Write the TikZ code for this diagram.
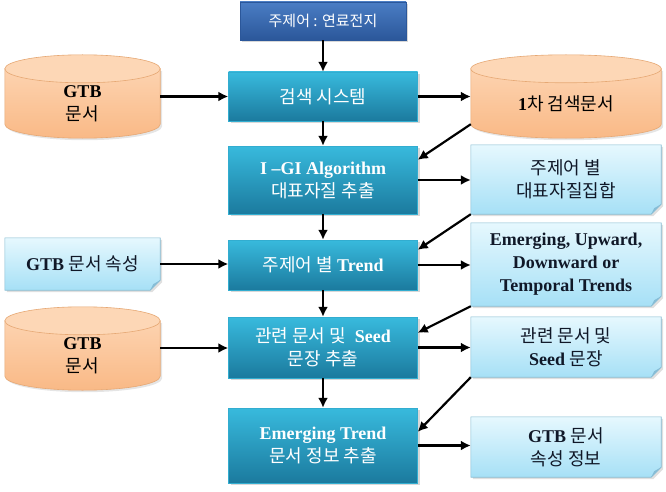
\documentclass[tikz,border=0pt]{standalone}
\usepackage{fontspec}
\setmainfont{Liberation Serif}
\newfontfamily\kr{Noto Sans CJK KR}
\usetikzlibrary{arrows.meta,backgrounds,calc,shadows}

\definecolor{themeTop}{HTML}{4A7DC4}
\definecolor{themeBot}{HTML}{2B579A}
\definecolor{mainTop}{HTML}{38BADD}
\definecolor{mainBot}{HTML}{1B7A9E}
\definecolor{noteTop}{HTML}{E6F8FE}
\definecolor{noteBot}{HTML}{A6E0F6}
\definecolor{noteLine}{HTML}{86BCD3}
\definecolor{noteFold}{HTML}{86BDD6}
\definecolor{dbTop}{HTML}{FDD3B0}
\definecolor{dbBot}{HTML}{F9B986}
\definecolor{dbLid}{HTML}{FDD7B6}
\definecolor{dbLine}{HTML}{E6A874}
\definecolor{noteText}{HTML}{101828}

\tikzset{
  every node/.style={align=center},
  themebox/.style={rectangle, minimum width=166pt, minimum height=38pt,
    top color=themeTop, bottom color=themeBot, draw=themeBot, text=white,
    font=\fontsize{15}{19}\selectfont,
    drop shadow={shadow xshift=2pt, shadow yshift=-2pt, opacity=0.3}},
  mainbox/.style={rectangle, minimum width=189pt,
    top color=mainTop, bottom color=mainBot, draw=mainTop!80!mainBot, text=white,
    font=\fontsize{18}{23}\selectfont,
    drop shadow={shadow xshift=2pt, shadow yshift=-2pt, opacity=0.3}},
  notebox/.style={rectangle, minimum width=190pt, inner sep=2pt, text=noteText,
    font=\fontsize{18}{23}\selectfont},
  dbnode/.style={rectangle, minimum width=155pt, minimum height=69pt,
    font=\fontsize{18}{23}\selectfont},
  notefill/.style={top color=noteTop, bottom color=noteBot, draw=noteLine, line width=0.6pt},
  notefold/.style={fill=noteFold},
  dbbody/.style={top color=dbTop, bottom color=dbBot, draw=dbLine, line width=0.6pt},
  dblid/.style={fill=dbLid, draw=dbLine, line width=0.6pt},
  flow/.style={line width=2.2pt, -{Latex[length=10pt,width=10pt]}}
}

\begin{document}
\begin{tikzpicture}[x=1pt,y=-1pt]
\useasboundingbox (0,0) rectangle (666,492);

% centre column
\node[themebox] (theme) at (323,21) {\kr 주제어 : 연료전지};
\node[mainbox, minimum height=49pt] (search) at (323,96.5) {\kr 검색 시스템};
\node[mainbox, minimum height=68pt] (igi) at (323,180) {\textbf{I –GI Algorithm}\\{\kr 대표자질 추출}};
\node[mainbox, minimum height=50pt] (trend) at (323,265) {{\kr 주제어 별} \textbf{Trend}};
\node[mainbox, minimum height=61pt] (seed) at (323,347.5) {{\kr 관련 문서 및}\ \ \textbf{Seed}\\{\kr 문장 추출}};
\node[mainbox, minimum height=75pt] (emerg) at (323,445.5) {\textbf{Emerging Trend}\\{\kr 문서 정보 추출}};

% left column
\node[dbnode] (gtbdoc) at (82.5,103.5) {\textbf{GTB}\\{\kr 문서}};
\node[notebox, minimum width=155pt, minimum height=52pt] (gtbattr) at (82.5,264) {\textbf{GTB} {\kr 문서 속성}};
\node[dbnode] (gtbdoc2) at (82.5,355.5) {\textbf{GTB}\\{\kr 문서}};

% right column
\node[dbnode, minimum width=190pt] (first) at (566,103.5) {\textbf{1}{\kr 차 검색문서}};
\node[notebox, minimum height=69pt] (featset) at (566,179.5) {{\kr 주제어 별}\\{\kr 대표자질집합}};
\node[notebox, minimum height=83pt] (trends) at (566,264.5) {\textbf{Emerging, Upward,}\\\textbf{Downward or}\\\textbf{Temporal Trends}};
\node[notebox, minimum height=60pt] (seeddoc) at (566,347) {{\kr 관련 문서 및}\\\textbf{Seed} {\kr 문장}};
\node[notebox, minimum height=60pt] (attrinfo) at (566,447) {\textbf{GTB} {\kr 문서}\\{\kr 속성 정보}};

\begin{scope}[on background layer]
  \fill[white] (0,0) rectangle (666,492);
  % databases
  \foreach \nm in {gtbdoc,gtbdoc2,first}{
    \path[dbbody, drop shadow={shadow xshift=2pt, shadow yshift=-2pt, opacity=0.2}]
      let \p1=(\nm.north west), \p2=(\nm.south east), \n1={(\x2-\x1)/2} in
      (\x1,\y1) -- (\x1,\y2+14pt) arc[start angle=180, end angle=360, x radius=\n1, y radius=14pt]
      -- (\x2,\y1) -- cycle;
    \path[dblid] let \p1=(\nm.north west), \p2=(\nm.south east), \n1={(\x2-\x1)/2} in
      (\x1+\n1,\y1) ellipse[x radius=\n1, y radius=14pt];
  }
  % notes
  \foreach \nm in {gtbattr,featset,trends,seeddoc,attrinfo}{
    \path[notefill, drop shadow={shadow xshift=2pt, shadow yshift=-2pt, opacity=0.25}]
      let \p1=(\nm.north west), \p2=(\nm.south east) in
      (\x1,\y1) -- (\x2,\y1) -- (\x2,\y2+10pt) -- (\x2-10pt,\y2) -- (\x1,\y2) -- cycle;
    \path[notefold] let \p1=(\nm.north west), \p2=(\nm.south east) in
      (\x2-10pt,\y2) -- (\x2,\y2+10pt) -- (\x2-7pt,\y2+6pt) -- cycle;
  }
\end{scope}

% down the centre
\draw[flow] (theme) -- (search);
\draw[flow] (search) -- (igi);
\draw[flow] (igi) -- (trend);
\draw[flow] (trend) -- (seed);
\draw[flow] (seed) -- (emerg);

% inputs
\draw[flow] (gtbdoc.east |- search.west) -- (search.west);
\draw[flow] (gtbattr.east) -- (gtbattr.east -| trend.west);
\draw[flow] (gtbdoc2.east |- 0,348) -- (seed.west |- 0,348);

% outputs
\draw[flow] (search.east) -- (search.east -| first.west);
\draw[flow] (igi.east) -- (igi.east -| featset.west);
\draw[flow] (trend.east) -- (trend.east -| trends.west);
\draw[flow] (seed.east) -- (seed.east -| seeddoc.west);
\draw[flow] (emerg.east) -- (emerg.east -| attrinfo.west);

% feedback
\draw[flow] ([yshift=14pt]first.south west) -- ([yshift=-14pt]igi.north east);
\draw[flow] (featset.south west) -- ([yshift=-10pt]trend.north east);
\draw[flow] (trends.south west) -- ([yshift=-16pt]seed.north east);
\draw[flow] (seeddoc.south west) -- ([yshift=-24pt]emerg.north east);
\end{tikzpicture}
\end{document}
